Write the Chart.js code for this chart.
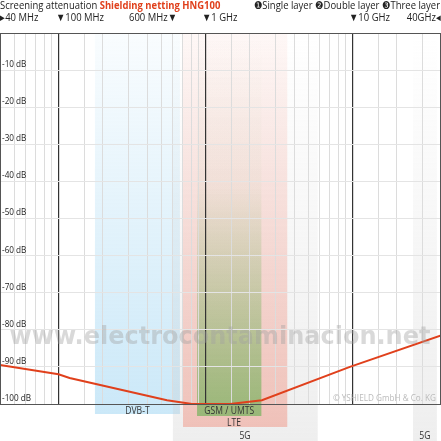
<!DOCTYPE html>
<html>
<head>
<meta charset="utf-8">
<script src="https://cdn.jsdelivr.net/npm/chart.js@4/dist/chart.umd.min.js"></script>
<style>
  html, body { margin: 0; padding: 0; background: #fff; }
  #wrap { width: 441px; height: 441px; position: relative; }
</style>
</head>
<body>
<div id="wrap"><canvas id="chart"></canvas></div>
<script>
// frequencies in Hz, attenuation in dB
const freqs = [40e6, 100e6, 119e6, 547e6, 810e6, 1.47e9, 2.42e9, 9.6e9, 40e9]
const attenuation = [-89.5, -92, -93, -99, -100, -100, -99, -90, -81.5]

const yTicks = [-10, -20, -30, -40, -50, -60, -70, -80, -90, -100]

// frequency bands
const bandNames = ['DVB-T', '5G', 'LTE', 'GSM / UMTS', '5G']
const bandFrom = [177e6, 600e6, 703e6, 876e6, 25.8e9]
const bandTo = [670e6, 5.8e9, 3.6e9, 2.4e9, 37.5e9]
const bandColors = ['140,205,240', '200,200,200', '240,130,110', '95,175,75', '200,200,200']
const bandAlphaTop = [0.05, 0.0, 0.06, 0.0, 0.0]
const bandAlphaBottom = [0.45, 0.3, 0.42, 0.6, 0.3]
const bandBottom = [414, 441, 427, 416, 441]
const bandLabelY = [411, 436, 423, 411, 436]

const topMarks = [
    { text: '▸40 MHz', x: 0, align: 'left' },
    { text: '▼100 MHz', x: 56, align: 'left' },
    { text: '600 MHz▼', x: 177, align: 'right' },
    { text: '▼1 GHz', x: 202, align: 'left' },
    { text: '▼10 GHz', x: 349, align: 'left' },
    { text: '40GHz◂', x: 441, align: 'right' },
]

const FONT = '"Open Sans", sans-serif'
const SQUEEZE = 0.86

// draw text horizontally condensed
function narrowText(ctx, text, x, y, align) {
    const w = ctx.measureText(text).width * SQUEEZE
    let left = x
    if (align === 'right') left = x - w
    if (align === 'center') left = x - w / 2
    ctx.save()
    ctx.textAlign = 'left'
    ctx.translate(left, y)
    ctx.scale(SQUEEZE, 1)
    ctx.fillText(text, 0, 0)
    ctx.restore()
    return w
}

const bandsPlugin = {
    id: 'bands',
    beforeDraw(chart) {
        const { ctx, scales: { x }, chartArea } = chart
        ctx.save()
        bandNames.forEach((name, i) => {
            const x0 = x.getPixelForValue(bandFrom[i])
            const x1 = x.getPixelForValue(bandTo[i])
            const top = chartArea.top
            const g = ctx.createLinearGradient(0, top, 0, bandBottom[i])
            const c = bandColors[i]
            g.addColorStop(0, 'rgba(' + c + ',' + bandAlphaTop[i] + ')')
            if (i === 3) g.addColorStop(0.4, 'rgba(' + c + ',0.04)')
            g.addColorStop(1, 'rgba(' + c + ',' + bandAlphaBottom[i] + ')')
            ctx.fillStyle = g
            ctx.fillRect(x0, top, x1 - x0, bandBottom[i] - top)
        })
        ctx.restore()
    },
    afterDraw(chart) {
        const { ctx, scales: { x, y }, chartArea } = chart
        ctx.save()
        ctx.strokeStyle = '#555'
        ctx.lineWidth = 1
        ctx.strokeRect(chartArea.left + 0.5, chartArea.top + 0.5, chartArea.width - 1, chartArea.height)
        ctx.textBaseline = 'middle'
        // band labels
        ctx.font = '10px ' + FONT
        ctx.fillStyle = '#333'
        bandNames.forEach((name, i) => {
            const x0 = x.getPixelForValue(bandFrom[i])
            const x1 = x.getPixelForValue(bandTo[i])
            let cx = (x0 + x1) / 2
            if (i === 1) cx = 245
            if (i === 2) cx = 234
            narrowText(ctx, name, cx, bandLabelY[i], 'center')
        })
        // y labels
        ctx.textBaseline = 'bottom'
        ctx.font = '9.5px ' + FONT
        ctx.fillStyle = '#222'
        yTicks.forEach(v => narrowText(ctx, v + ' dB', 2, y.getPixelForValue(v) - 1, 'left'))
        // watermark
        ctx.font = 'bold 24px "DejaVu Sans", sans-serif'
        ctx.fillStyle = 'rgba(160,160,160,0.4)'
        ctx.textAlign = 'center'
        ctx.textBaseline = 'middle'
        ctx.fillText('www.electrocontaminacion.net', 220, 338)
        // copyright
        ctx.font = '9.5px ' + FONT
        ctx.fillStyle = '#bbb'
        narrowText(ctx, '© YSHIELD GmbH & Co. KG', 436, 398, 'right')
        // title
        ctx.font = '11px ' + FONT
        ctx.fillStyle = '#222'
        const w = narrowText(ctx, 'Screening attenuation ', 0, 6, 'left')
        ctx.font = 'bold 11px ' + FONT
        ctx.fillStyle = '#e0401c'
        narrowText(ctx, 'Shielding netting HNG100', w, 6, 'left')
        ctx.font = '11px ' + FONT
        ctx.fillStyle = '#222'
        narrowText(ctx, '❶Single layer ❷Double layer ❸Three layer', 440, 6, 'right')
        topMarks.forEach(m => narrowText(ctx, m.text, m.x, 18, m.align))
        ctx.restore()
    }
}

function isMajor(v) {
    return Math.abs(Math.log10(v) - Math.round(Math.log10(v))) < 1e-6
}

new Chart(document.querySelector('#chart').getContext('2d'), {
    type: 'line',
    data: {
        datasets: [{
            data: freqs.map((f, i) => ({ x: f, y: attenuation[i] })),
            borderColor: '#e0401c',
            borderWidth: 2,
            pointRadius: 0,
            tension: 0,
            fill: false,
        }]
    },
    options: {
        responsive: true,
        maintainAspectRatio: false,
        animation: false,
        layout: { padding: { top: 33, bottom: 37, left: 0, right: 0 } },
        plugins: { legend: { display: false }, tooltip: { enabled: false } },
        scales: {
            x: {
                type: 'logarithmic',
                min: 40e6,
                max: 40e9,
                ticks: { display: false, autoSkip: false },
                grid: {
                    drawTicks: false,
                    color: c => isMajor(c.tick.value) ? '#333' : '#dcdcdc',
                    lineWidth: c => isMajor(c.tick.value) ? 1.2 : 1,
                },
                border: { color: '#555' },
            },
            y: {
                min: -100,
                max: 0,
                ticks: { display: false, stepSize: 10 },
                grid: { drawTicks: false, color: '#e4e4e4' },
                border: { color: '#555' },
            }
        }
    },
    plugins: [bandsPlugin]
})
</script>
</body>
</html>
